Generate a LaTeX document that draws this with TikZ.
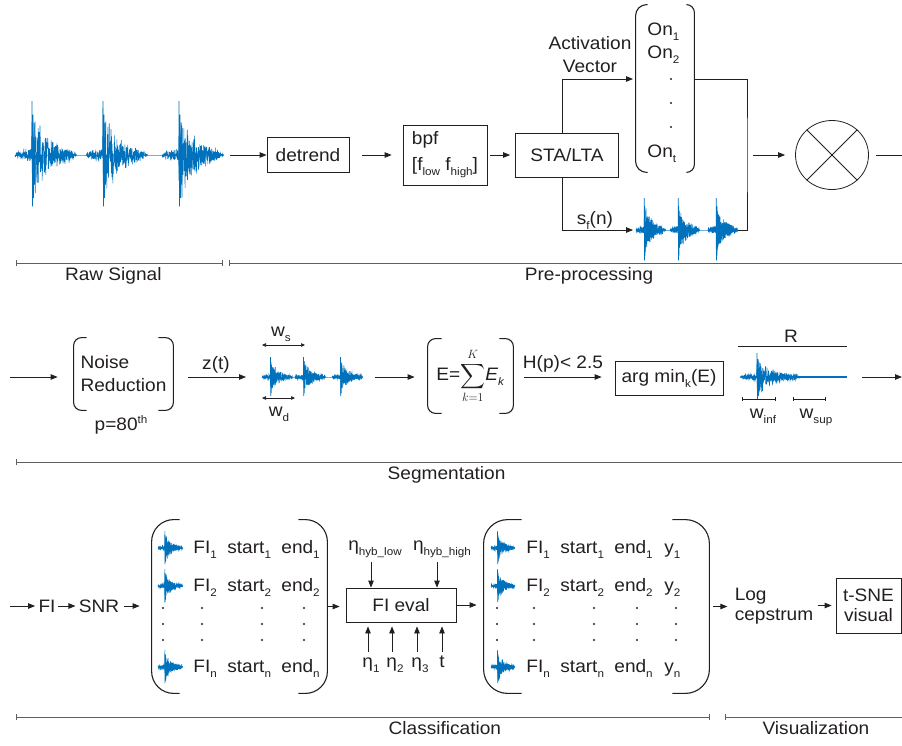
\documentclass[tikz,border=0pt]{standalone}
\usepackage{amsmath}
\usepackage{fontspec}
\setmainfont{Liberation Sans}[FakeStretch=1.06]
\usetikzlibrary{arrows.meta,shapes.geometric}

\definecolor{sig}{RGB}{0,114,189}
\definecolor{ink}{RGB}{35,31,32}
\definecolor{gline}{RGB}{95,95,95}

\newcommand\lowr[1]{\raisebox{-5pt}{\fontsize{11}{11}\selectfont #1}}
\newcommand\highr[1]{\raisebox{7pt}{\fontsize{11}{11}\selectfont #1}}

% one seismic event, unit box: x 0..1, amplitude +-1
\tikzset{
  quake/.pic={
    \draw[sig,line width=0.55pt] plot[domain=0:1,samples=360]
      (\x,{rand*(0.55+0.45*rnd)*((\x<0.27) ? (0.07+0.08*\x/0.27) : (0.08+0.92*exp(-4.2*(\x-0.27))))*min(1,(1-\x)*8)*min(1,0.4+\x*8)});
    \draw[sig,line width=0.7pt] (0.27,0) -- (0.275,-1) -- (0.282,0.95) -- (0.29,-0.75)
      -- (0.3,0.8) -- (0.31,-0.6) -- (0.32,0.55) -- (0.33,0);
  }
}

\begin{document}
\begin{tikzpicture}[x=1pt,y=-1pt,color=ink,line width=0.8pt,
  >={Triangle[length=7pt,width=5.5pt]},
  font=\fontsize{18}{23}\selectfont,
  box/.style={draw,inner sep=0pt},
  lbl/.style={inner sep=0pt},
  brack/.style={line width=1.1pt},
  stage/.style={draw=gline,line width=1pt},
  wtip/.style={{Triangle[length=4pt,width=3.5pt]}-{Triangle[length=4pt,width=3.5pt]},line width=0.6pt},
  wbar/.style={{Bar[width=4pt]}-{Bar[width=4pt]},line width=0.8pt}]
  \useasboundingbox (0,0) rectangle (902,745);
  \pgfmathsetseed{7}

  % ---------------- pre-processing
  \draw[sig!55] (15,155) -- (224,155);
  \pic[xscale=62,yscale=54] at (15,155) {quake};
  \pic[xscale=62,yscale=54] at (86,155) {quake};
  \pic[xscale=62,yscale=54] at (162,155) {quake};
  \coordinate (rawout) at (230,155);

  \node[box,minimum width=82pt,minimum height=35pt] (detrend) at (308,155) {detrend};
  \node[box,minimum width=84pt,minimum height=60pt,align=left] (bpf) at (445,155) {bpf\\[3pt][f\lowr{low} f\lowr{high}]};
  \node[box,minimum width=103pt,minimum height=44pt] (sta) at (567,155) {STA/LTA};
  \draw[->] (rawout) -- (detrend);
  \draw[->,shorten <=13pt,shorten >=11pt] (detrend) -- (bpf);
  \draw[->,shorten <=3pt,shorten >=5pt] (bpf) -- (sta);

  \node[minimum width=58pt,minimum height=167pt,inner sep=0pt] (onvec) at (665,88.5) {};
  \draw[brack,rounded corners=11pt] ([xshift=12pt]onvec.north west) -- (onvec.north west)
    -- (onvec.south west) -- ([xshift=12pt]onvec.south west);
  \draw[brack,rounded corners=8pt] ([xshift=-8pt]onvec.north east) -- (onvec.north east)
    -- (onvec.south east) -- ([xshift=-8pt]onvec.south east);
  \node[lbl,anchor=base west] (on1) at (647,35) {On\lowr{1}};
  \node[lbl,anchor=base west] (on2) at (647,58) {On\lowr{2}};
  \node[lbl,anchor=base west] (ont) at (647,157) {On\lowr{t}};
  \foreach \y in {79,103,127} \fill (671,\y) circle (1.2pt);

  \coordinate (vin) at (633,79);
  \coordinate (sfin) at (633,230);
  \draw[->] ([xshift=-5pt]sta.north) |- (vin);
  \draw[->] ([xshift=-5pt]sta.south) |- (sfin);
  \node[lbl,align=center] (actlbl) at (590,55) {Activation\\Vector};
  \node[lbl,anchor=base] (sflbl) at (595,224) {s\lowr{f}(n)};

  \draw[sig!55] (636,230) -- (738,230);
  \foreach \xs in {636,670,708} \pic[xscale=30,yscale=32] at (\xs,230) {quake};

  \coordinate (vout) at (onvec.east |- vin);
  \coordinate (sfout) at (738,230);
  \coordinate (join) at (747,155);
  \draw (vout) -| (join) |- (sfout);

  \coordinate (mixin) at (753,155);
  \node[draw,ellipse,minimum width=73pt,minimum height=69pt,inner sep=0pt] (mix) at (832,155) {};
  \draw (mix.45) -- (mix.225) (mix.135) -- (mix.315);
  \draw[->,shorten >=10pt] (mixin) -- (mix);
  \coordinate (topout) at (902,155);
  \draw[shorten <=7pt] (mix) -- (topout);

  \draw[stage,{Bar[width=6pt]}-{Bar[width=6pt]}] (16,263) -- node[lbl,pos=0.47,below=4pt] (rawlbl) {Raw Signal} (223,263);
  \draw[stage,{Bar[width=6pt]}-] (229,263) -- node[lbl,pos=0.535,below=4pt] (prelbl) {Pre-processing} (902,263);

  % ---------------- segmentation
  \coordinate (midrow) at (10,377);
  \node[lbl,minimum width=99pt,minimum height=72pt,align=left] (noise) at (123.5,374) {Noise\\Reduction};
  \draw[brack,rounded corners=8pt] ([xshift=13pt]noise.north west) -- (noise.north west)
    -- (noise.south west) -- ([xshift=13pt]noise.south west);
  \draw[brack,rounded corners=8pt] ([xshift=-15pt]noise.north east) -- (noise.north east)
    -- (noise.south east) -- ([xshift=-15pt]noise.south east);
  \node[lbl,anchor=base] (pth) at (121,430) {p=80\highr{th}};
  \draw[->,shorten >=16pt] (midrow) -- (midrow -| noise.west);

  \coordinate (zin) at (246,377);
  \draw[->,shorten <=15pt] (noise.east |- zin) -- (zin);
  \node[lbl] (zlbl) at (216,365) {z(t)};

  \draw[sig!55] (262,377) -- (363,377);
  \foreach \xs in {262,295,332} \pic[xscale=31,yscale=20] at (\xs,377) {quake};
  \coordinate (wsa) at (262,345);
  \coordinate (wsb) at (305,345);
  \coordinate (wda) at (262,398);
  \coordinate (wdb) at (295,398);
  \draw[wtip] (wsa) -- (wsb);
  \draw[wtip] (wda) -- (wdb);
  \node[lbl,anchor=base] (wslbl) at (281,336) {w\lowr{s}};
  \node[lbl,anchor=base] (wdlbl) at (279,416) {w\lowr{d}};

  \node[lbl,minimum width=85pt,minimum height=74pt] (ebox) at (470.5,376)
    {E=$\displaystyle\sum_{k=1}^{K}$\textit{E}\lowr{\textit{k}}};
  \draw[brack,rounded corners=8pt] ([xshift=14pt]ebox.north west) -- (ebox.north west)
    -- (ebox.south west) -- ([xshift=14pt]ebox.south west);
  \draw[brack,rounded corners=8pt] ([xshift=-14pt]ebox.north east) -- (ebox.north east)
    -- (ebox.south east) -- ([xshift=-14pt]ebox.south east);
  \coordinate (ein) at (375,377);
  \draw[->,shorten >=13pt] (ein) -- (ein -| ebox.west);

  \node[box,minimum width=108pt,minimum height=34pt] (argmin) at (669,378) {arg min\lowr{k}(E)};
  \draw[->,shorten <=11pt,shorten >=13pt] (ebox.east |- ein) -- (argmin.west |- ein);
  \node[lbl] (hlbl) at (563,364) {H(p)< 2.5};

  \draw[sig,line width=2pt] (780,377) -- (847,377);
  \pic[xscale=62,yscale=24] at (740,377) {quake};
  \coordinate (ra) at (738,346);
  \coordinate (rb) at (847,346);
  \draw (ra) -- (rb);
  \node[lbl,anchor=base] (rlbl) at (791,342) {R};
  \coordinate (wia) at (742,399);
  \coordinate (wib) at (776,399);
  \coordinate (wua) at (793,399);
  \coordinate (wub) at (826,399);
  \draw[wbar] (wia) -- (wib);
  \draw[wbar] (wua) -- (wub);
  \node[lbl,anchor=base] (wilbl) at (763,418) {w\lowr{inf}};
  \node[lbl,anchor=base] (wulbl) at (816,418) {w\lowr{sup}};
  \coordinate (sega) at (862,377);
  \coordinate (segb) at (902,377);
  \draw[->] (sega) -- (segb);

  \draw[stage,{Bar[width=6pt]}-] (16,462) -- node[lbl,pos=0.486,below=4pt] (seglbl) {Segmentation} (902,462);

  % ---------------- classification
  \coordinate (botrow) at (10,606);
  \node[lbl] (fi) at (47,606) {FI};
  \node[lbl] (snr) at (99,606) {SNR};
  \draw[->,shorten >=3pt] (botrow) -- (botrow -| fi.west);
  \draw[->,shorten <=2.5pt,shorten >=3pt] (fi) -- (snr);

  \node[minimum width=175pt,minimum height=173pt,inner sep=0pt] (mat1) at (239.5,606.5) {};
  \draw[brack,rounded corners=22pt] ([xshift=28pt]mat1.north west) -- (mat1.north west)
    -- (mat1.south west) -- ([xshift=28pt]mat1.south west);
  \draw[brack,rounded corners=22pt] ([xshift=-29pt]mat1.north east) -- (mat1.north east)
    -- (mat1.south east) -- ([xshift=-29pt]mat1.south east);
  \draw[->,shorten <=4pt,shorten >=12pt] (snr.east) -- (snr.east -| mat1.west);
  \foreach \y/\i in {548/1,586/2,667/n} {
    \pic[xscale=25,yscale=17] at (158,\y) {quake};
    \node[lbl,anchor=base west] (fia\i) at (193,{\y+5}) {FI\lowr{\i}};
    \node[lbl,anchor=base west] (sta\i) at (227,{\y+5}) {start\lowr{\i}};
    \node[lbl,anchor=base west] (ena\i) at (281,{\y+5}) {end\lowr{\i}};
  }
  \foreach \y in {608,624,640}
    \foreach \x in {163,202,262,304} \fill (\x,\y) circle (1.1pt);

  \node[box,minimum width=110pt,minimum height=34pt] (fieval) at (401,605) {FI eval};
  \draw[->,shorten <=1pt,shorten >=6pt] (mat1.east) -- (mat1.east -| fieval.west);

  \node[lbl,anchor=base] (hlow) at (375,550) {η\lowr{hyb\_low}};
  \node[lbl,anchor=base] (hhigh) at (442,550) {η\lowr{hyb\_high}};
  \coordinate (hlowtip) at (371,562);
  \coordinate (hhightip) at (437,562);
  \draw[->] (hlowtip) -- (hlowtip |- fieval.north);
  \draw[->] (hhightip) -- (hhightip |- fieval.north);
  \foreach \xa/\nm/\sb in {368/e1/1,392/e2/2,417/e3/3} {
    \coordinate (\nm) at (\xa,652);
    \draw[->,shorten >=4pt] (\nm) -- (\nm |- fieval.south);
    \node[lbl,anchor=base west] (\nm lbl) at ({\xa-6},667) {η\lowr{\sb}};
  }
  \coordinate (tpar) at (442,652);
  \draw[->,shorten >=4pt] (tpar) -- (tpar |- fieval.south);
  \node[lbl,anchor=base] (tlbl) at (442,667) {t};

  \node[minimum width=225pt,minimum height=173pt,inner sep=0pt] (mat2) at (596.5,606.5) {};
  \draw[brack,rounded corners=24pt] ([xshift=38pt]mat2.north west) -- (mat2.north west)
    -- (mat2.south west) -- ([xshift=38pt]mat2.south west);
  \draw[brack,rounded corners=24pt] ([xshift=-37pt]mat2.north east) -- (mat2.north east)
    -- (mat2.south east) -- ([xshift=-37pt]mat2.south east);
  \draw[->,shorten >=7pt] (fieval.east) -- (fieval.east -| mat2.west);
  \foreach \y/\i in {548/1,586/2,667/n} {
    \pic[xscale=24,yscale=17] at (491,\y) {quake};
    \node[lbl,anchor=base west] (fib\i) at (526,{\y+5}) {FI\lowr{\i}};
    \node[lbl,anchor=base west] (stb\i) at (560,{\y+5}) {start\lowr{\i}};
    \node[lbl,anchor=base west] (enb\i) at (614,{\y+5}) {end\lowr{\i}};
    \node[lbl,anchor=base west] (yb\i) at (664,{\y+5}) {y\lowr{\i}};
  }
  \foreach \y in {608,624,640}
    \foreach \x in {497,534,594,637,676} \fill (\x,\y) circle (1.1pt);

  % ---------------- visualization
  \node[lbl,align=left] (logc) at (774,606) {Log\\[-3pt]cepstrum};
  \node[box,minimum width=65pt,minimum height=55pt,align=center] (tsne) at (868.5,605.5) {t-SNE\\[-3pt]visual};
  \draw[->,shorten <=4pt,shorten >=7pt] (mat2.east) -- (mat2.east -| logc.west);
  \draw[->,shorten <=4pt,shorten >=4pt] (logc.east |- tsne.west) -- (tsne.west);

  \draw[stage,{Bar[width=6pt]}-{Bar[width=6pt]}] (16,717) -- node[lbl,pos=0.618,below=4pt] (clslbl) {Classification} (710,717);
  \draw[stage,{Bar[width=6pt]}-] (725,717) -- node[lbl,pos=0.514,below=4pt] (vislbl) {Visualization} (902,717);
\end{tikzpicture}
\end{document}
